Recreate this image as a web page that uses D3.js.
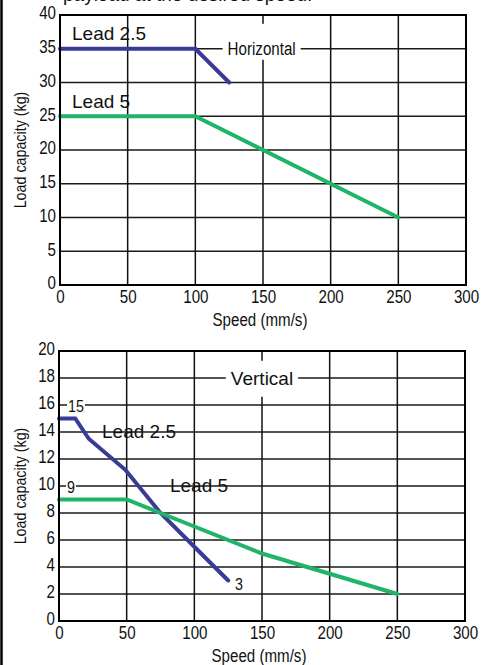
<!DOCTYPE html>
<html lang="en">
<head>
    <meta charset="UTF-8">
    <title>Load capacity vs speed</title>
    <style>
        body { margin: 0; background: #fff; }
        svg { display: block; }
        .narrow { font-family: "Liberation Sans Narrow", "Liberation Sans", Arial, sans-serif; }
        .wide { font-family: "Liberation Sans", Arial, sans-serif; }
    </style>
    <script src="https://d3js.org/d3.v7.min.js"></script>
</head>
<body>
    <div id="chart"></div>

    <script>
        // Speed ticks (mm/s), shared by both charts
        const speedTicks = [0, 50, 100, 150, 200, 250, 300];

        // Horizontal mounting
        const horizLoadTicks = [0, 5, 10, 15, 20, 25, 30, 35, 40];
        const horizLead25 = [[0, 35], [100, 35], [125, 30]];
        const horizLead5 = [[0, 25], [100, 25], [250, 10]];

        // Vertical mounting
        const vertLoadTicks = [0, 2, 4, 6, 8, 10, 12, 14, 16, 18, 20];
        const vertLead25 = [[0, 15], [12, 15], [22, 13.5], [49, 11.2], [75, 8], [100, 5.5], [125, 3]];
        const vertLead5 = [[0, 9], [50, 9], [100, 7], [150, 5], [200, 3.5], [250, 2]];

        const width = 496;
        const height = 665;
        const blue = "#393c97";
        const green = "#20b46a";

        const svg = d3.select("#chart")
            .append("svg")
            .attr("width", width)
            .attr("height", height);

        // is a real narrow face there? if not, squeeze the regular one
        const probe = svg.append("text").attr("font-size", 20).text("Horizontal 0123");
        probe.attr("class", "wide");
        const wWide = probe.node().getComputedTextLength();
        probe.attr("class", "narrow");
        const wNarrow = probe.node().getComputedTextLength();
        probe.remove();
        const squeeze = wNarrow < wWide * 0.95 ? 1 : 0.84;

        function condense(sel) {
            if (squeeze === 1) return;
            sel.each(function () {
                const len = this.getComputedTextLength();
                d3.select(this)
                    .attr("textLength", len * squeeze)
                    .attr("lengthAdjust", "spacingAndGlyphs");
            });
        }

        // left page border
        svg.append("line")
            .attr("x1", 1.5).attr("x2", 1.5)
            .attr("y1", 0).attr("y2", height)
            .attr("stroke", "#000")
            .attr("stroke-width", 2.5);

        // caption cut off at the top of the crop
        svg.append("text")
            .attr("class", "wide")
            .attr("x", 63)
            .attr("y", 1)
            .attr("font-size", 19)
            .attr("fill", "#111")
            .text("payload at the desired speed.");

        function drawChart(cfg) {
            const g = svg.append("g");
            const x = d3.scaleLinear().domain([0, 300]).range([cfg.left, cfg.right]);
            const y = d3.scaleLinear().domain([0, cfg.yMax]).range([cfg.bottom, cfg.top]);

            // grid
            g.append("g").selectAll("line")
                .data(cfg.yTicks.slice(1, -1))
                .enter().append("line")
                .attr("x1", cfg.left).attr("x2", cfg.right)
                .attr("y1", d => y(d)).attr("y2", d => y(d))
                .attr("stroke", "#1a1a1a")
                .attr("stroke-width", 1.3);

            g.append("g").selectAll("line")
                .data(speedTicks.slice(1, -1))
                .enter().append("line")
                .attr("x1", d => x(d)).attr("x2", d => x(d))
                .attr("y1", cfg.top).attr("y2", cfg.bottom)
                .attr("stroke", "#111")
                .attr("stroke-width", 1.5);

            // white boxes behind titled labels (drawn before the lines)
            const notes = g.append("g");

            // curves
            const line = d3.line().x(d => x(d[0])).y(d => y(d[1]));
            cfg.series.forEach(s => {
                g.append("path")
                    .datum(s.data)
                    .attr("d", line)
                    .attr("fill", "none")
                    .attr("stroke", s.color)
                    .attr("stroke-width", 4)
                    .attr("stroke-linejoin", "miter")
                    .attr("stroke-linecap", "round");
            });

            // frame
            g.append("rect")
                .attr("x", cfg.left).attr("y", cfg.top)
                .attr("width", cfg.right - cfg.left)
                .attr("height", cfg.bottom - cfg.top)
                .attr("fill", "none")
                .attr("stroke", "#000")
                .attr("stroke-width", 2);

            // axes labels
            const xAxis = d3.axisBottom(x).tickValues(speedTicks).tickSize(0).tickPadding(5);
            const yAxis = d3.axisLeft(y).tickValues(cfg.yTicks).tickSize(0).tickPadding(4);

            const xa = g.append("g")
                .attr("transform", `translate(0,${cfg.bottom})`)
                .call(xAxis);
            const ya = g.append("g")
                .attr("transform", `translate(${cfg.left},0)`)
                .call(yAxis);
            [xa, ya].forEach(a => {
                a.select(".domain").remove();
                a.selectAll("text")
                    .attr("class", "narrow")
                    .attr("font-size", 18)
                    .attr("fill", "#111")
                    .call(condense);
            });
            ya.selectAll("text").attr("dy", "0.22em");

            g.append("text")
                .attr("class", "narrow")
                .attr("x", (cfg.left + cfg.right) / 2 - 3)
                .attr("y", cfg.bottom + 41)
                .attr("text-anchor", "middle")
                .attr("font-size", 18)
                .attr("fill", "#111")
                .text("Speed (mm/s)")
                .call(condense);

            g.append("text")
                .attr("class", "narrow")
                .attr("transform", `translate(26,${(cfg.top + cfg.bottom) / 2}) rotate(-90)`)
                .attr("text-anchor", "middle")
                .attr("font-size", 17)
                .attr("fill", "#111")
                .text("Load capacity (kg)")
                .call(condense);

            // annotations
            cfg.labels.forEach(l => {
                const t = g.append("text")
                    .attr("class", l.cls)
                    .attr("x", x(l.at[0]))
                    .attr("y", y(l.at[1]))
                    .attr("text-anchor", l.anchor || "start")
                    .attr("font-size", l.size)
                    .attr("fill", "#111")
                    .text(l.text);
                if (l.cls === "narrow") t.call(condense);
                if (l.pad) {
                    const b = t.node().getBBox();
                    notes.append("rect")
                        .attr("x", b.x - l.pad[3])
                        .attr("y", b.y - l.pad[0])
                        .attr("width", b.width + l.pad[1] + l.pad[3])
                        .attr("height", b.height + l.pad[0] + l.pad[2])
                        .attr("fill", "#fff");
                }
            });
        }

        drawChart({
            left: 60, right: 466, top: 15, bottom: 285,
            yMax: 40, yTicks: horizLoadTicks,
            series: [
                { data: horizLead25, color: blue },
                { data: horizLead5, color: green }
            ],
            labels: [
                { text: "Lead 2.5", at: [8.9, 36.3], size: 19, cls: "wide" },
                { text: "Lead 5", at: [8.9, 26.2], size: 19, cls: "wide" },
                { text: "Horizontal", at: [149, 34.1], size: 18, cls: "narrow", anchor: "middle", pad: [15, 5, 1, 5] }
            ]
        });

        drawChart({
            left: 59, right: 465, top: 351, bottom: 621,
            yMax: 20, yTicks: vertLoadTicks,
            series: [
                { data: vertLead25, color: blue },
                { data: vertLead5, color: green }
            ],
            labels: [
                { text: "Vertical", at: [150, 17.5], size: 19, cls: "wide", anchor: "middle", pad: [7, 5, 8, 5] },
                { text: "Lead 2.5", at: [31.8, 13.56], size: 19, cls: "wide" },
                { text: "Lead 5", at: [82, 9.56], size: 19, cls: "wide" },
                { text: "15", at: [6.7, 15.5], size: 17, cls: "narrow", pad: [0, 1, 0, 1] },
                { text: "9", at: [5.9, 9.5], size: 17, cls: "narrow", pad: [0, 1, 0, 1] },
                { text: "3", at: [130, 2.3], size: 17, cls: "narrow" }
            ]
        });
    </script>
</body>
</html>
